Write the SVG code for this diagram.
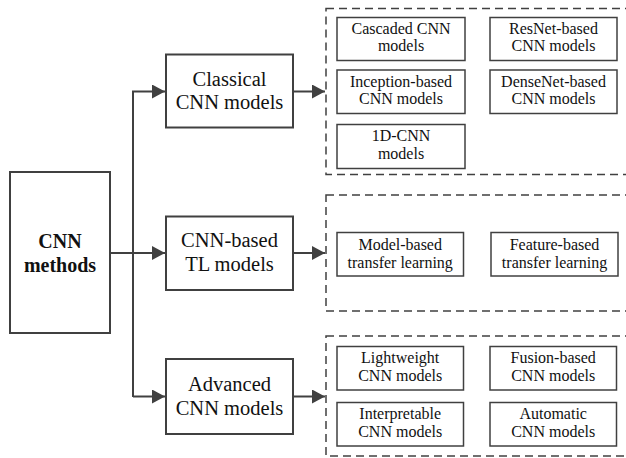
<svg xmlns="http://www.w3.org/2000/svg" width="626" height="458" viewBox="0 0 626 458">
<style>
.main{fill:#fff;stroke:#404040;stroke-width:2}
.sub{fill:#fff;stroke:#404040;stroke-width:1.5}
.dash{fill:none;stroke:#404040;stroke-width:1.5;stroke-dasharray:8 5}
.line{fill:none;stroke:#404040;stroke-width:2}
text{font-family:"Liberation Serif","Times New Roman",serif;fill:#111;text-anchor:middle}
.t1{font-size:20.5px}
.t2{font-size:16px}
.tb{font-size:20px;font-weight:bold}
</style>
<defs>
<marker id="arr" markerWidth="13" markerHeight="14" refX="13" refY="7" orient="auto" markerUnits="userSpaceOnUse">
<path d="M0,0 L13,7 L0,14 Z" fill="#404040"/>
</marker>
</defs>
<rect width="626" height="458" fill="#fff"/>
<g id="connectors">
<line class="line" x1="110" y1="253" x2="165" y2="253" marker-end="url(#arr)"/>
<polyline class="line" points="133,397 133,91.5 165,91.5" marker-end="url(#arr)"/>
<polyline class="line" points="133,396.5 165,396.5" marker-end="url(#arr)"/>
<line class="line" x1="293" y1="91.5" x2="325" y2="91.5" marker-end="url(#arr)"/>
<line class="line" x1="293" y1="253" x2="325" y2="253" marker-end="url(#arr)"/>
<line class="line" x1="293" y1="396.5" x2="325" y2="396.5" marker-end="url(#arr)"/>
</g>
<g id="cnn-methods">
<rect class="main" x="10" y="172" width="100" height="161"/>
<text class="tb" x="60" y="247.5">CNN</text>
<text class="tb" x="60" y="272">methods</text>
</g>
<g id="classical">
<rect class="main" x="166" y="54.5" width="127" height="73"/>
<text class="t1" x="229.5" y="85.5">Classical</text>
<text class="t1" x="229.5" y="108.5">CNN models</text>
</g>
<g id="cnn-tl">
<rect class="main" x="166" y="216.5" width="127" height="73.5"/>
<text class="t1" x="229.5" y="247">CNN-based</text>
<text class="t1" x="229.5" y="271">TL models</text>
</g>
<g id="advanced">
<rect class="main" x="166" y="359" width="127" height="75"/>
<text class="t1" x="229.5" y="391">Advanced</text>
<text class="t1" x="229.5" y="414.5">CNN models</text>
</g>
<g id="group-classical">
<rect class="dash" x="326" y="8.5" width="310" height="166"/>
</g>
<g id="cascaded">
<rect class="sub" x="337" y="17.5" width="128" height="43"/>
<text class="t2" x="401" y="33.5">Cascaded CNN</text>
<text class="t2" x="401" y="51">models</text>
</g>
<g id="resnet">
<rect class="sub" x="490" y="17.5" width="127" height="43"/>
<text class="t2" x="553.5" y="33.5">ResNet-based</text>
<text class="t2" x="553.5" y="51">CNN models</text>
</g>
<g id="inception">
<rect class="sub" x="337" y="70" width="128" height="43.5"/>
<text class="t2" x="401" y="86.5">Inception-based</text>
<text class="t2" x="401" y="104">CNN models</text>
</g>
<g id="densenet">
<rect class="sub" x="490" y="70" width="127" height="43.5"/>
<text class="t2" x="553.5" y="86.5">DenseNet-based</text>
<text class="t2" x="553.5" y="104">CNN models</text>
</g>
<g id="cnn1d">
<rect class="sub" x="337" y="124.5" width="128" height="44"/>
<text class="t2" x="401" y="141">1D-CNN</text>
<text class="t2" x="401" y="158.5">models</text>
</g>
<g id="group-tl">
<rect class="dash" x="326" y="195" width="310" height="116"/>
</g>
<g id="model-tl">
<rect class="sub" x="337" y="232.5" width="126.5" height="43.5"/>
<text class="t2" x="400.2" y="250">Model-based</text>
<text class="t2" x="400.2" y="267.5">transfer learning</text>
</g>
<g id="feature-tl">
<rect class="sub" x="491" y="232.5" width="127" height="43.5"/>
<text class="t2" x="554.5" y="250">Feature-based</text>
<text class="t2" x="554.5" y="267.5">transfer learning</text>
</g>
<g id="group-advanced">
<rect class="dash" x="326" y="336" width="310" height="120"/>
</g>
<g id="lightweight">
<rect class="sub" x="337" y="346.5" width="126.5" height="43.5"/>
<text class="t2" x="400.2" y="363">Lightweight</text>
<text class="t2" x="400.2" y="380.5">CNN models</text>
</g>
<g id="fusion">
<rect class="sub" x="490" y="346.5" width="126.5" height="43.5"/>
<text class="t2" x="553.2" y="363">Fusion-based</text>
<text class="t2" x="553.2" y="380.5">CNN models</text>
</g>
<g id="interpretable">
<rect class="sub" x="337" y="402.5" width="126.5" height="43.5"/>
<text class="t2" x="400.2" y="419">Interpretable</text>
<text class="t2" x="400.2" y="436.5">CNN models</text>
</g>
<g id="automatic">
<rect class="sub" x="490" y="402.5" width="126.5" height="43.5"/>
<text class="t2" x="553.2" y="419">Automatic</text>
<text class="t2" x="553.2" y="436.5">CNN models</text>
</g>
</svg>
